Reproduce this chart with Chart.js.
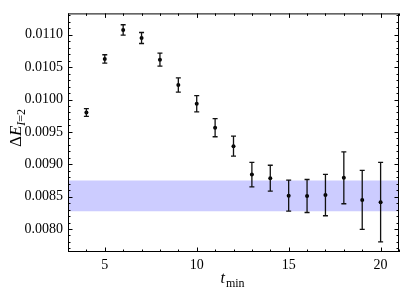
<!DOCTYPE html>
<html>
<head>
<meta charset="utf-8">
<script src="https://cdn.jsdelivr.net/npm/chart.js@4/dist/chart.umd.min.js"></script>
<style>
  html, body { margin: 0; padding: 0; background: #fff; }
  canvas { display: block; }
</style>
</head>
<body>
<canvas id="c" width="405" height="294"></canvas>
<script>
// values
const tmin = [4, 5, 6, 7, 8, 9, 10, 11, 12, 13, 14, 15, 16, 17, 18, 19, 20];
const dE = [0.00980, 0.010626, 0.011075, 0.010950, 0.010615, 0.010225, 0.009935, 0.009565,
            0.009280, 0.008840, 0.008785, 0.008515, 0.008510, 0.008525, 0.008790, 0.008450, 0.008415];
const dErr = [0.00006, 0.000065, 0.00008, 0.000085, 0.0001, 0.00011, 0.000125, 0.00014,
              0.000155, 0.00019, 0.0002, 0.00024, 0.000255, 0.00032, 0.0004, 0.000455, 0.000615];
const bandLo = 0.008275;
const bandHi = 0.008750;
const xTicks = [5, 10, 15, 20];
const yTicks = [0.0080, 0.0085, 0.0090, 0.0095, 0.0100, 0.0105, 0.0110];

const serif = '"Liberation Serif", "DejaVu Serif", serif';

const errorBars = {
    id: 'errorBars',
    afterDatasetsDraw(chart) {
        const ctx = chart.ctx;
        const xs = chart.scales.x, ys = chart.scales.y;
        ctx.save();
        ctx.strokeStyle = '#111';
        ctx.lineWidth = 1.3;
        tmin.forEach((t, i) => {
            const px = xs.getPixelForValue(t);
            const top = ys.getPixelForValue(dE[i] + dErr[i]);
            const bot = ys.getPixelForValue(dE[i] - dErr[i]);
            ctx.beginPath();
            ctx.moveTo(px, top); ctx.lineTo(px, bot);
            ctx.moveTo(px - 2.5, top); ctx.lineTo(px + 2.5, top);
            ctx.moveTo(px - 2.5, bot); ctx.lineTo(px + 2.5, bot);
            ctx.stroke();
        });
        ctx.restore();
    }
};

const frame = {
    id: 'frame',
    afterDraw(chart) {
        const ctx = chart.ctx;
        const a = chart.chartArea;
        const xs = chart.scales.x, ys = chart.scales.y;
        ctx.save();
        ctx.strokeStyle = '#000';
        ctx.lineWidth = 1;
        ctx.strokeRect(a.left + 0.5, a.top + 0.5, a.right - a.left - 1, a.bottom - a.top - 1);

        ctx.beginPath();
        for (let v = 3; v <= 21; v++) {
            const len = v % 5 === 0 ? 4.5 : 2.5;
            const px = Math.round(xs.getPixelForValue(v)) + 0.5;
            ctx.moveTo(px, a.bottom); ctx.lineTo(px, a.bottom - len);
            ctx.moveTo(px, a.top); ctx.lineTo(px, a.top + len);
        }
        for (let k = 77; k <= 113; k++) {
            const v = k / 10000;
            const len = k % 5 === 0 ? 4.5 : 2.5;
            const py = Math.round(ys.getPixelForValue(v)) + 0.5;
            ctx.moveTo(a.left, py); ctx.lineTo(a.left + len, py);
            ctx.moveTo(a.right, py); ctx.lineTo(a.right - len, py);
        }
        ctx.stroke();

        // axis titles
        ctx.fillStyle = '#000';
        ctx.textBaseline = 'alphabetic';
        // x title: t_min
        const cx = (a.left + a.right) / 2 - 1;
        ctx.font = 'italic 16px ' + serif;
        const wt = ctx.measureText('t').width;
        ctx.font = '12px ' + serif;
        const wm = ctx.measureText('min').width;
        let x0 = cx - (wt + wm + 1) / 2;
        ctx.font = 'italic 16px ' + serif;
        ctx.fillText('t', x0, 283);
        ctx.font = '12px ' + serif;
        ctx.fillText('min', x0 + wt + 1, 286.5);

        // y title: ΔE_{I=2}
        ctx.translate(21, 128);
        ctx.rotate(-Math.PI / 2);
        const parts = [
            ['Δ', '17px ', 0],
            ['E', 'italic 17px ', 0],
            ['I', 'italic 12px ', 4],
            ['=2', '12px ', 4]
        ];
        let w = 0;
        parts.forEach(p => { ctx.font = p[1] + serif; w += ctx.measureText(p[0]).width; });
        let xx = -w / 2;
        parts.forEach(p => {
            ctx.font = p[1] + serif;
            ctx.fillText(p[0], xx, p[2]);
            xx += ctx.measureText(p[0]).width;
        });
        ctx.restore();
    }
};

new Chart(document.getElementById('c'), {
    type: 'scatter',
    data: {
        datasets: [
            {
                data: tmin.map((t, i) => ({ x: t, y: dE[i] })),
                pointRadius: 2,
                pointBackgroundColor: '#000',
                pointBorderWidth: 0,
                order: 0
            },
            {
                type: 'line',
                data: [{ x: 3, y: bandHi }, { x: 21, y: bandHi }],
                borderWidth: 0,
                pointRadius: 0,
                fill: false,
                order: 2
            },
            {
                type: 'line',
                data: [{ x: 3, y: bandLo }, { x: 21, y: bandLo }],
                borderWidth: 0,
                pointRadius: 0,
                backgroundColor: 'rgb(204, 204, 255)',
                fill: '-1',
                order: 1
            }
        ]
    },
    options: {
        responsive: false,
        animation: false,
        devicePixelRatio: 1,
        layout: { padding: { left: 0, right: 6, top: 6, bottom: 0 } },
        plugins: { legend: { display: false }, tooltip: { enabled: false } },
        scales: {
            x: {
                type: 'linear',
                min: 3,
                max: 21,
                grid: { display: false, drawTicks: false },
                border: { display: false },
                afterBuildTicks: s => { s.ticks = xTicks.map(v => ({ value: v })); },
                afterFit: s => { s.height = 42; },
                ticks: { color: '#000', padding: 5, font: { family: serif, size: 14 } }
            },
            y: {
                min: 0.007645,
                max: 0.01133,
                grid: { display: false, drawTicks: false },
                border: { display: false },
                afterBuildTicks: s => { s.ticks = yTicks.map(v => ({ value: v })); },
                afterFit: s => { s.width = 68; },
                ticks: {
                    color: '#000',
                    padding: 5,
                    font: { family: serif, size: 14 },
                    callback: v => v.toFixed(4)
                }
            }
        }
    },
    plugins: [errorBars, frame]
});
</script>
</body>
</html>
